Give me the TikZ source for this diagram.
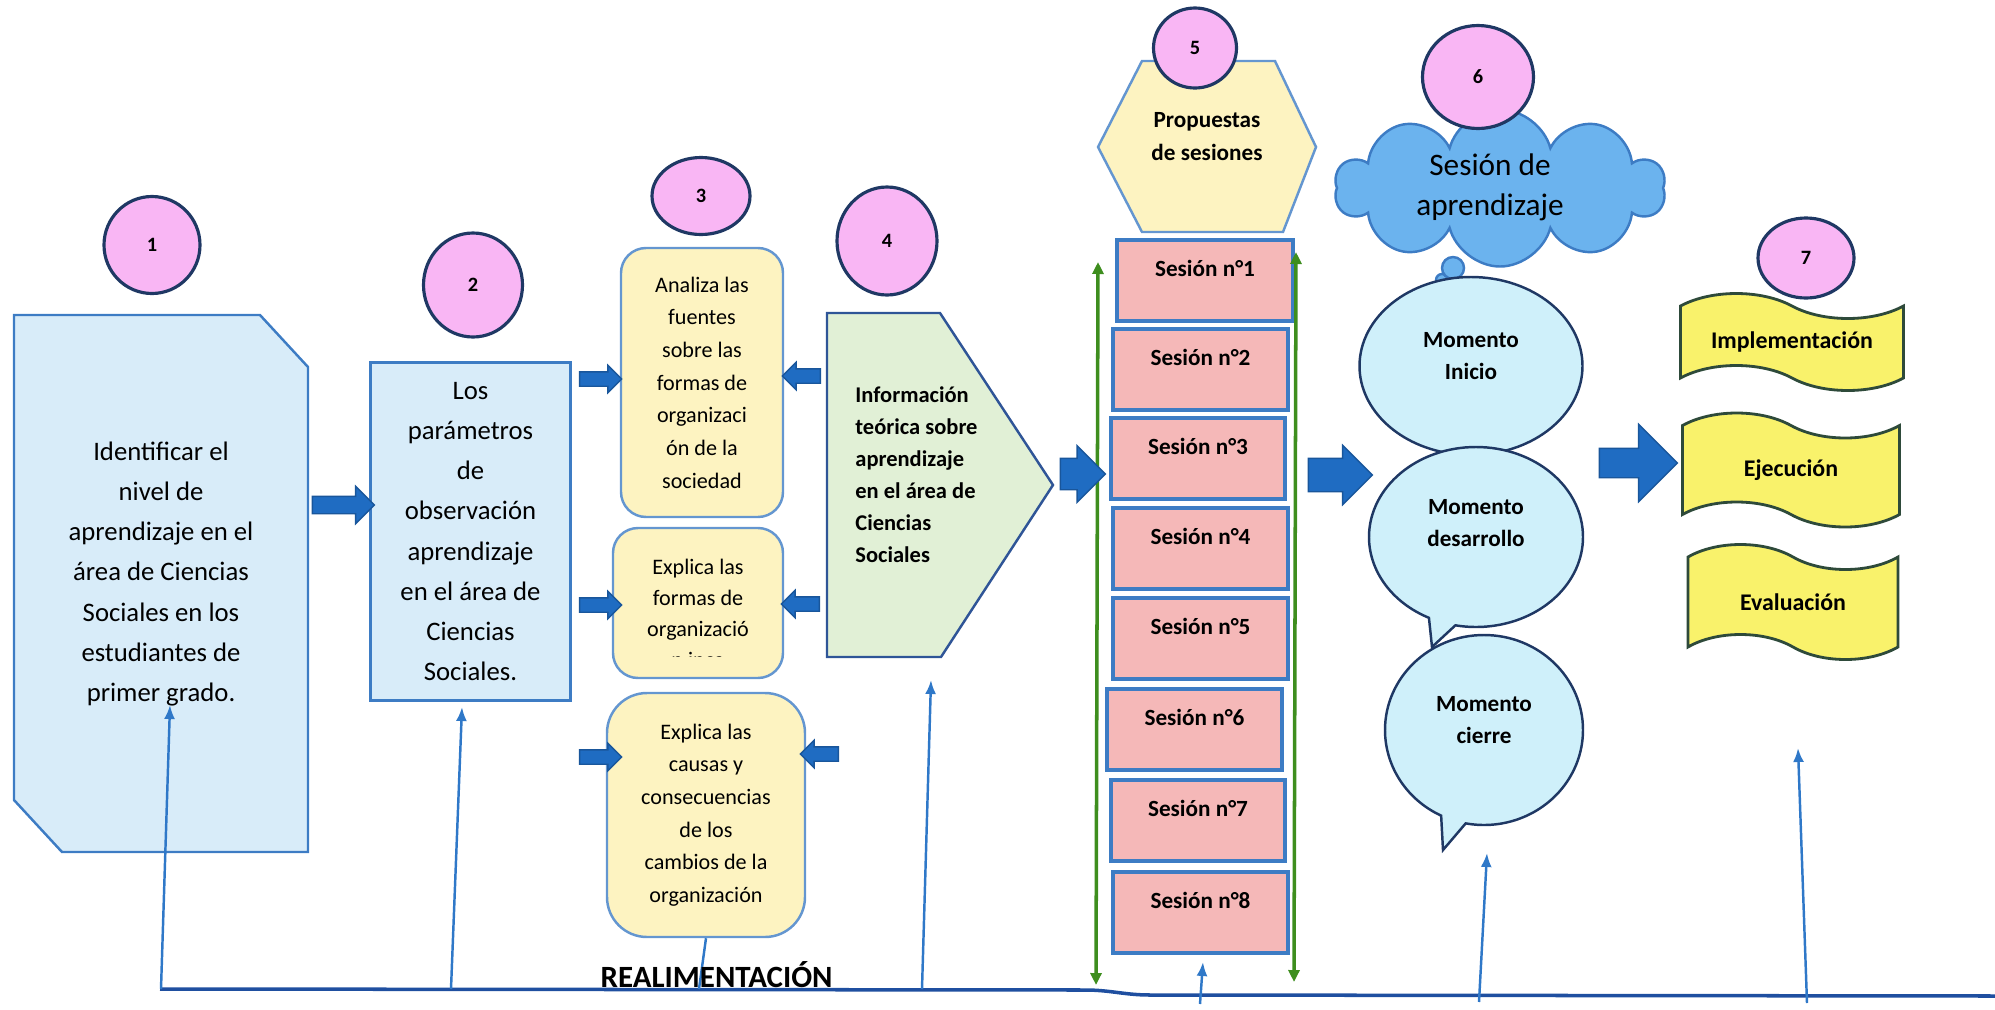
\documentclass[tikz,border=0pt]{standalone}
\usepackage{fontspec}
\setmainfont{Carlito}
\usetikzlibrary{shapes.geometric, shapes.symbols, shapes.callouts, shapes.arrows, arrows.meta}

\definecolor{numpink}{HTML}{F9B6F4}
\definecolor{navy}{HTML}{1F3864}
\definecolor{paleblue}{HTML}{D8ECF9}
\definecolor{boxblue}{HTML}{3D7CC4}
\definecolor{paleyellow}{HTML}{FDF3C1}
\definecolor{palegreen}{HTML}{E1F0D6}
\definecolor{greenedge}{HTML}{2F5597}
\definecolor{salmon}{HTML}{F5B8B8}
\definecolor{skyblue}{HTML}{6BB3EE}
\definecolor{palecyan}{HTML}{CFF0FA}
\definecolor{banner}{HTML}{F9F26B}
\definecolor{banneredge}{HTML}{2E4A3A}
\definecolor{arrowblue}{HTML}{1F6CC2}
\definecolor{linegreen}{HTML}{3E8E1E}
\definecolor{fbblue}{HTML}{2F78C8}
\definecolor{fbdark}{HTML}{1F4FA0}

\begin{document}
\begin{tikzpicture}[x=0.1mm, y=-0.1mm,
    num/.style={ellipse, draw=navy, line width=0.9pt, fill=numpink, inner sep=0pt,
      font=\fontsize{5.8}{7}\selectfont\bfseries},
    bluebox/.style={draw=boxblue, line width=0.7pt, fill=paleblue},
    bigtext/.style={align=center, font=\fontsize{7.6}{11.4}\selectfont},
    yellowbox/.style={draw=boxblue!80, line width=0.7pt, fill=paleyellow, align=center,
      font=\fontsize{6.3}{9.3}\selectfont, inner sep=0pt},
    sesbox/.style={draw=boxblue, line width=0.9pt, fill=salmon, inner sep=0pt},
    sestext/.style={font=\fontsize{6.6}{8}\selectfont\bfseries},
    bubble/.style={ellipse callout, draw=navy, line width=0.7pt, fill=palecyan, inner sep=0pt},
    bubtext/.style={align=center, font=\fontsize{6.6}{9.1}\selectfont\bfseries},
    flagbox/.style={tape, draw=banneredge, line width=0.8pt, fill=banner, inner sep=0pt,
      tape bend top=out and in, tape bend bottom=out and in,
      tape bend height=2.5mm, font=\fontsize{6.8}{8}\selectfont\bfseries},
    blockarrow/.style={single arrow, draw=arrowblue!80!black, line width=0.4pt, fill=arrowblue,
      inner xsep=0pt, minimum width=0pt},
    fbarrow/.style={draw=fbblue, line width=0.7pt, -{Latex[length=1.4mm, width=1.1mm]}},
    greenline/.style={draw=linegreen, line width=1pt,
      {Triangle[length=1.2mm, width=1.1mm]}-{Triangle[length=1.2mm, width=1.1mm]}}]

  \useasboundingbox (0,0) rectangle (1995,1009);

  % 1 - diagnosis
  \draw[bluebox] (14,315) -- (260,315) -- (308,367) -- (308,852) -- (62,852) -- (14,800) -- cycle;
  \node[bigtext] (ident) at (161,574) {Identificar el\\nivel de\\aprendizaje en el\\área de Ciencias\\Sociales en los\\estudiantes de\\primer grado.};

  % 2 - parameters
  \node[bluebox, bigtext, minimum width=20mm, minimum height=33.8mm, inner sep=0pt] (param) at (470.5,531.5)
    {Los\\parámetros\\de\\observación\\aprendizaje\\en el área de\\Ciencias\\Sociales.};

  % 3 - competences
  \node[yellowbox, rounded corners=2.5mm, minimum width=16.2mm, minimum height=26.9mm] (fuentes) at (702,382.5)
    {Analiza las\\fuentes\\sobre las\\formas de\\organizaci\\ón de la\\sociedad};
  \node[yellowbox, rounded corners=2.5mm, minimum width=17mm, minimum height=15mm] (formas) at (698,603) {};
  \begin{scope}
    \clip (613,528) rectangle (783,656);
    \node[align=center, font=\fontsize{6.3}{8.8}\selectfont] (formastxt) at (698,613.5)
      {Explica las\\formas de\\organizació\\n inca};
  \end{scope}
  \node[yellowbox, rounded corners=4mm, minimum width=19.8mm, minimum height=24.4mm] (causas) at (706,815)
    {Explica las\\causas y\\consecuencias\\de los\\cambios de la\\organización};

  % 4 - theory
  \draw[draw=greenedge, line width=0.7pt, fill=palegreen]
    (827,313) -- (940,313) -- (1053,485) -- (941,657) -- (827,657) -- cycle;
  \node[align=left, anchor=west, font=\fontsize{6.4}{9.1}\selectfont\bfseries] (teoria) at (843,475)
    {Información\\teórica sobre\\aprendizaje\\en el área de\\Ciencias\\Sociales};

  % 5 - sessions
  \draw[draw=boxblue!80, line width=0.7pt, fill=paleyellow]
    (1142,61) -- (1275,61) -- (1316,147) -- (1283,232) -- (1142,232) -- (1098,147) -- cycle;
  \node[align=center, font=\fontsize{6.6}{9.4}\selectfont\bfseries] (propuestas) at (1207,137)
    {Propuestas\\de sesiones};
  \foreach \n/\xl/\xr/\yt in {1/1117/1293/240, 2/1113/1288/329, 3/1111/1285/418, 4/1113/1288/508,
      5/1113/1288/598, 6/1107/1282/689, 7/1111/1285/780, 8/1113/1288/872} {
    \node[sesbox, minimum width={(\xr-\xl)*0.1mm}, minimum height=8.1mm]
      (s\n) at ({(\xl+\xr)/2},{\yt+40.5}) {};
    \node[sestext] at ([yshift=-3mm]s\n.north) {Sesión n°\n};
  }
  \coordinate (gl1) at (1096,985);
  \coordinate (gl2) at (1098,262);
  \coordinate (gr1) at (1294,982);
  \coordinate (gr2) at (1296,252);
  \draw[greenline] (gl1) -- (gl2);
  \draw[greenline] (gr1) -- (gr2);

  % 6 - learning session
  \node[cloud, cloud puffs=10, cloud ignores aspect, draw=boxblue, line width=0.7pt, fill=skyblue,
    minimum width=33mm, minimum height=15.7mm, inner sep=0pt] (nube) at (1500,188) {};
  \draw[draw=boxblue, line width=0.7pt, fill=skyblue] (1442,280) circle (0.6mm);
  \draw[draw=boxblue, line width=0.7pt, fill=skyblue] (1453,268) circle (1.1mm);
  \node[align=center, font=\fontsize{8.9}{11.4}\selectfont] (sesion) at (1490,187) {Sesión de\\aprendizaje};

  \node[bubble, minimum width=22.3mm, minimum height=17.8mm, callout absolute pointer={(1468,490)}]
    (inicio) at (1471,366) {};
  \node[bubtext] at (1471,356) {Momento\\Inicio};
  \node[bubble, minimum width=21.4mm, minimum height=18mm, callout absolute pointer={(1432,647)}]
    (desarrollo) at (1476,537) {};
  \node[bubtext] at (1476,523) {Momento\\desarrollo};
  \node[bubble, minimum width=19.8mm, minimum height=19mm, callout absolute pointer={(1443,850)}]
    (cierre) at (1484,730) {};
  \node[bubtext] at (1484,720) {Momento\\cierre};

  % 7 - stages
  \node[flagbox, minimum width=22.3mm, minimum height=9.7mm] (impl) at (1792,342) {Implementación};
  \node[flagbox, minimum width=21.7mm, minimum height=11.4mm] (ejec) at (1791,470) {Ejecución};
  \node[flagbox, minimum width=21mm, minimum height=11.5mm] (eval) at (1793,602) {Evaluación};

  % block arrows
  \node[blockarrow, inner ysep=0.8mm, single arrow head extend=1mm, minimum height=6.2mm] (a12) at (339,505) {};
  \foreach \y [count=\i] in {379,605,757}
    \node[blockarrow, inner ysep=0.65mm, single arrow head extend=0.65mm, minimum height=4.2mm] (ar\i) at (597,\y) {};
  \foreach \x/\y [count=\i] in {805/376, 804/604, 823/754}
    \node[blockarrow, shape border rotate=180, inner ysep=0.65mm, single arrow head extend=0.65mm, minimum height=3.8mm] (al\i) at (\x,\y) {};
  \node[blockarrow, inner ysep=1.5mm, single arrow head extend=1.25mm, minimum height=4.5mm] (a45) at (1075,474) {};
  \node[blockarrow, inner ysep=1.6mm, single arrow head extend=1.3mm, minimum height=6.4mm] (a56) at (1332,475) {};
  \node[blockarrow, inner ysep=1.4mm, single arrow head extend=2.4mm, minimum height=7.8mm] (a67) at (1631,463) {};

  % numbers
  \foreach \n/\cx/\cy/\w/\h in {1/152/245/96/97, 2/473/285/99/104, 3/701/196/98/77, 4/887/241/100/108,
      5/1195/48/83/80, 6/1478/77/111/103, 7/1806/258/96/80}
    \node[num, minimum width=\w*0.1mm, minimum height=\h*0.1mm] (c\n) at (\cx,\cy) {\n};

  % feedback
  \coordinate (fbL) at (160,989);
  \coordinate (fbM) at (1085,990);
  \coordinate (fbN) at (1150,995);
  \coordinate (fbR) at (1995,996);
  \draw[fbdark, line width=1pt] (fbL) -- (fbM) to[out=0, in=180] (fbN) -- (fbR);
  \foreach \i/\xb/\yb/\xt/\yt in {1/161/989/170/705, 2/451/989/462/707, 4/922/989/931/680,
      5/1200/1004/1203/962, 6/1479/1002/1487/853, 7/1807/1003/1798/748} {
    \coordinate (fb\i) at (\xb,\yb);
    \coordinate (tip\i) at (\xt,\yt);
    \draw[fbarrow] (fb\i) -- (tip\i);
  }
  \coordinate (fb3) at (699,989);
  \draw[fbblue, line width=0.7pt] (fb3) -- (causas.south);
  \node[anchor=base west, inner sep=0pt, font=\fontsize{8.8}{10}\selectfont\bfseries] (realim) at (600,987) {REALIMENTACIÓN};
\end{tikzpicture}
\end{document}
